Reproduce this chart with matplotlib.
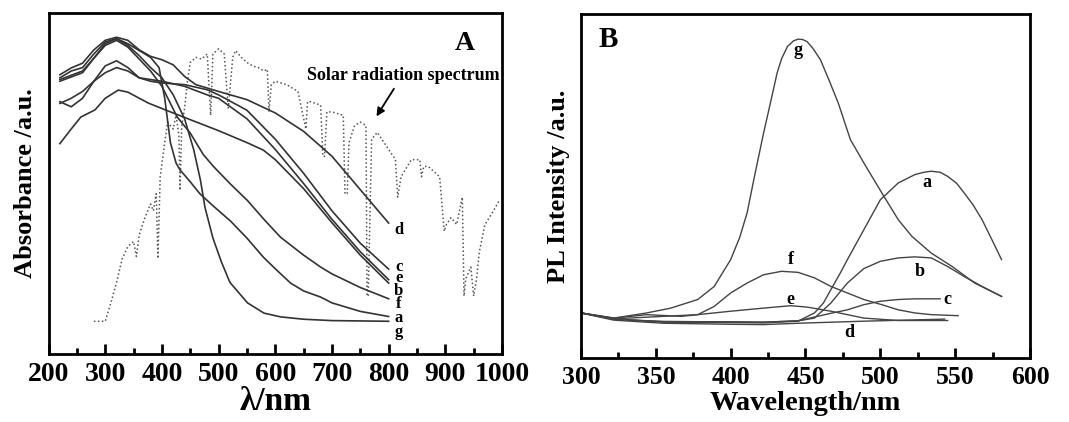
import matplotlib
matplotlib.use("Agg")
import matplotlib.pyplot as plt
from matplotlib.ticker import MultipleLocator

plt.rcParams['font.family'] = ['Liberation Serif', 'DejaVu Serif']
plt.rcParams['font.weight'] = 'bold'

# ---- panel A: absorbance (arbitrary units, 0 = frame bottom, 100 = frame top)
abs_a_nm = [220, 260, 300, 320, 340, 360, 380, 395, 405, 415, 425, 432, 450, 467, 490, 521, 550, 579, 600, 627, 650, 680, 700, 750, 800]
abs_a = [80, 82.5, 91, 92.5, 91, 89, 87, 84, 75, 62, 56, 54, 50.5, 47, 43.5, 39, 34, 28.4, 25, 20.8, 18.5, 16.7, 15, 12.5, 11]

abs_b_nm = [220, 240, 257, 282, 300, 323, 340, 376, 406, 452, 500, 550, 579, 600, 650, 700, 750, 800]
abs_b = [61.7, 66, 69.5, 71.6, 75, 77.4, 76.8, 73.6, 71.6, 68.6, 65.5, 62, 59.8, 57, 48.5, 38.5, 29, 20.8]

abs_c_nm = [220, 240, 260, 280, 300, 320, 340, 360, 380, 400, 440, 480, 500, 550, 600, 650, 700, 750, 800]
abs_c = [74, 72.5, 75, 80, 84.5, 86, 84, 81, 80, 79.5, 79, 77.5, 76, 71.5, 63, 53, 42, 32.5, 24.9]

abs_d_nm = [220, 240, 260, 280, 300, 320, 340, 360, 380, 400, 420, 440, 460, 500, 550, 600, 650, 700, 750, 800]
abs_d = [81.9, 83.9, 85.3, 89.2, 92, 92.9, 92, 89.2, 87.3, 86.3, 84.8, 81.4, 79, 77, 74.6, 70.7, 65.3, 58, 48.2, 38.4]

abs_e_nm = [220, 240, 260, 280, 300, 320, 340, 360, 380, 400, 440, 480, 500, 550, 600, 650, 700, 750, 800]
abs_e = [73.5, 75, 77, 80, 82.5, 84, 83, 81, 80.5, 80, 78.5, 76, 75, 69, 60, 50, 39.5, 30, 21.8]

abs_f_nm = [220, 260, 300, 320, 340, 360, 380, 400, 427, 450, 473, 491, 520, 551, 580, 609, 650, 680, 700, 750, 800]
abs_f = [80.5, 83, 90.5, 92, 90, 86.5, 83, 78.5, 69.5, 64.8, 58.5, 55, 50, 45, 39.5, 34.3, 29, 25.5, 23.5, 19.5, 16.2]

abs_g_nm = [220, 240, 260, 280, 300, 320, 340, 360, 380, 400, 420, 440, 456, 468, 476, 490, 505, 520, 551, 580, 609, 650, 700, 800]
abs_g = [81, 83, 84, 88, 91.5, 92.5, 90.5, 87.5, 84, 81, 76, 69, 60, 51, 43, 34, 27, 21, 15, 12, 10.9, 10.2, 9.8, 9.6]

solar_nm = [280, 300, 310, 320, 330, 340, 350, 355, 360, 370, 380, 385, 390, 393, 397, 405, 410, 420, 425,
            430, 432, 435, 440, 445, 450, 460, 470, 480, 486, 490, 500, 510, 517, 525, 530, 540, 550, 560,
            570, 580, 586, 589, 593, 600, 620, 640, 654, 657, 662, 680, 684, 687, 691, 700, 720, 723, 727,
            730, 740, 750, 760, 762, 764, 770, 780, 800, 812, 816, 822, 840, 855, 858, 862, 870, 890, 898,
            902, 910, 920, 930, 933, 936, 945, 950, 955, 960, 970, 985, 995]
solar = [9.6, 9.6, 15, 21, 28, 31.5, 33, 28.6, 35, 40, 44, 42, 47, 28, 52, 62, 68, 66, 70,
         64, 48, 67, 72, 80, 85.5, 87, 86.5, 88, 70, 88, 89.5, 88, 72, 87, 89, 87, 85.5, 84.5,
         84, 83, 83.5, 71, 79, 80, 79, 77, 66, 74, 74, 73, 58, 58, 71, 71, 70, 47, 47,
         62, 67, 68, 67, 17, 17, 63, 65, 60, 57, 46, 52, 57, 57, 52, 55, 55, 52, 36,
         38, 40, 38, 46, 17, 22, 25.5, 17, 22, 30, 38, 42, 45]

abs_curves = [("a", abs_a_nm, abs_a), ("b", abs_b_nm, abs_b), ("c", abs_c_nm, abs_c),
              ("d", abs_d_nm, abs_d), ("e", abs_e_nm, abs_e), ("f", abs_f_nm, abs_f),
              ("g", abs_g_nm, abs_g)]
abs_label_names = ["d", "c", "e", "b", "f", "a", "g"]
abs_label_y = [36.4, 25.5, 22.4, 18.6, 14.6, 10.6, 6.4]

# ---- panel B: PL intensity
pl_a_nm = [300, 322, 355, 400, 422, 445, 456, 462, 467, 473, 478, 489, 500, 512, 523, 529, 534, 540, 545, 551, 556, 562, 568, 575, 581]
pl_a = [13.1, 11.4, 10.4, 10.3, 10.2, 10.7, 13.1, 16, 19.9, 24.5, 28.6, 37.3, 46, 50.9, 53.3, 54, 54.3, 54, 52.8, 50.8, 48, 44.5, 40.2, 34, 28.6]

pl_b_nm = [300, 322, 355, 400, 422, 445, 456, 467, 478, 489, 500, 512, 523, 534, 545, 556, 568, 581]
pl_b = [13.1, 11.2, 10.6, 10.5, 10.4, 10.8, 11.6, 16, 21.8, 26, 28.1, 29.1, 29.4, 29.1, 26.6, 23.7, 20.8, 17.9]

pl_c_nm = [300, 322, 355, 400, 422, 445, 467, 478, 489, 500, 512, 523, 540]
pl_c = [13.1, 11.3, 10.6, 10.5, 10.4, 10.8, 13, 14, 15.5, 16.5, 17, 17.2, 17.2]

pl_d_nm = [300, 322, 355, 400, 422, 445, 489, 543]
pl_d = [13.1, 11, 10.1, 9.8, 9.7, 10.1, 10.7, 11.3]

pl_e_nm = [300, 322, 355, 378, 400, 422, 440, 451, 467, 489, 512, 545]
pl_e = [13.1, 11.4, 12.1, 12.6, 13.6, 14.5, 15.2, 14.8, 13.6, 11.6, 10.9, 10.9]

pl_f_nm = [300, 322, 344, 367, 378, 389, 400, 411, 422, 434, 445, 456, 467, 478, 489, 501, 512, 523, 534, 552]
pl_f = [13.1, 11.6, 12.6, 12.1, 12.6, 15, 18.9, 21.8, 24.2, 25.2, 24.9, 23.3, 20.8, 18.9, 17, 15.5, 14, 13.1, 12.6, 12.3]

pl_g_nm = [300, 322, 344, 360, 378, 389, 400, 406, 411, 416, 422, 427, 431, 434, 438, 442, 445, 448, 451, 455,
           460, 466, 472, 480, 489, 501, 512, 521, 534, 548, 563, 581]
pl_g = [13.1, 11.6, 13.1, 14.5, 17, 20.8, 28.6, 35, 42.2, 53, 65.4, 75, 82.8, 87, 90.6, 92.2, 92.7, 92.6, 92, 90,
        86.7, 80.5, 74, 63.5, 56.7, 48, 40.2, 35.4, 30.5, 26.6, 21.8, 17.9]

pl_curves = [("a", pl_a_nm, pl_a), ("b", pl_b_nm, pl_b), ("c", pl_c_nm, pl_c), ("d", pl_d_nm, pl_d),
             ("e", pl_e_nm, pl_e), ("f", pl_f_nm, pl_f), ("g", pl_g_nm, pl_g)]
pl_label_names = ["g", "a", "b", "c", "d", "e", "f"]
pl_label_x = [445, 531, 526, 545, 479, 440, 440]
pl_label_y = [89.5, 50.9, 25.2, 17, 7.3, 17, 28.6]

fig = plt.figure(figsize=(10.69, 4.22), dpi=100)
axA = fig.add_axes([0.0454, 0.1611, 0.4242, 0.808])
axB = fig.add_axes([0.5435, 0.1517, 0.42, 0.815])

axA.plot(solar_nm, solar, color='#555555', lw=1.1, linestyle=(0, (1, 1.6)))
for name, x, y in abs_curves:
    axA.plot(x, y, color='#333333', lw=1.2)
for name, yy in zip(abs_label_names, abs_label_y):
    axA.text(818, yy, name, fontsize=12, fontweight='bold', ha='center', va='center')
axA.text(0.918, 0.911, "A", transform=axA.transAxes, fontsize=20, fontweight='bold', ha='center', va='center')
axA.text(826, 81.8, "Solar radiation spectrum", fontsize=13, fontweight='bold', ha='center', va='center')
axA.annotate("", xy=(776, 69), xytext=(812, 78.5),
             arrowprops=dict(arrowstyle='-|>', color='black', lw=1.3, mutation_scale=12))
axA.set_xlim(200, 1000)
axA.set_ylim(0, 100)
axA.xaxis.set_major_locator(MultipleLocator(100))
axA.xaxis.set_minor_locator(MultipleLocator(50))
axA.set_xlabel("λ/nm", fontsize=24, fontweight='bold', labelpad=-1)
axA.set_ylabel("Absorbance /a.u.", fontsize=19, fontweight='bold', labelpad=8)

for name, x, y in pl_curves:
    axB.plot(x, y, color='#444444', lw=1.0)
for name, xx, yy in zip(pl_label_names, pl_label_x, pl_label_y):
    axB.text(xx, yy, name, fontsize=13, fontweight='bold', ha='center', va='center')
axB.text(0.06, 0.925, "B", transform=axB.transAxes, fontsize=21, fontweight='bold', ha='center', va='center')
axB.set_xlim(300, 600)
axB.set_ylim(0, 100)
axB.xaxis.set_major_locator(MultipleLocator(50))
axB.xaxis.set_minor_locator(MultipleLocator(25))
axB.set_xlabel("Wavelength/nm", fontsize=20.5, fontweight='bold', labelpad=1)
axB.set_ylabel("PL Intensity /a.u.", fontsize=19, fontweight='bold', labelpad=8)

for ax, lsize in ((axA, 20), (axB, 18.5)):
    ax.set_yticks([])
    for sp in ax.spines.values():
        sp.set_linewidth(2)
    ax.tick_params(axis='x', which='major', direction='in', length=7, width=2, labelsize=lsize, pad=6)
    ax.tick_params(axis='x', which='minor', direction='in', length=4, width=2)
    for lab in ax.get_xticklabels():
        lab.set_fontweight('bold')

fig.savefig("out.png", dpi=100)
